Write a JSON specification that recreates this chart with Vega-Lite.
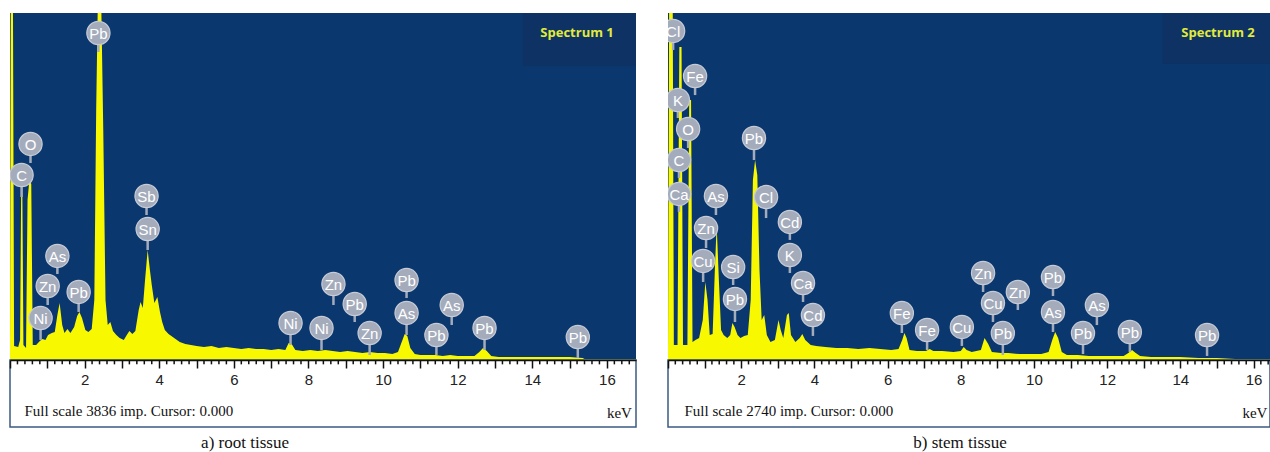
{
 "$schema": "https://vega.github.io/schema/vega-lite/v6.json",
 "padding": {"left": 9, "top": 13, "right": 0, "bottom": 0},
 "background": "white",
 "config": {"view": {"stroke": null, "fill": "#0b376f"}, "concat": {"spacing": 30}},
 "datasets": {
  "mt": [{"e":0.2},{"e":0.4},{"e":0.6},{"e":0.8},{"e":1.2},{"e":1.4},{"e":1.6},{"e":1.8},{"e":2.2},{"e":2.4},{"e":2.6},{"e":2.8},{"e":3.2},{"e":3.4},{"e":3.6},{"e":3.8},{"e":4.2},{"e":4.4},{"e":4.6},{"e":4.8},{"e":5.2},{"e":5.4},{"e":5.6},{"e":5.8},{"e":6.2},{"e":6.4},{"e":6.6},{"e":6.8},{"e":7.2},{"e":7.4},{"e":7.6},{"e":7.8},{"e":8.2},{"e":8.4},{"e":8.6},{"e":8.8},{"e":9.2},{"e":9.4},{"e":9.6},{"e":9.8},{"e":10.2},{"e":10.4},{"e":10.6},{"e":10.8},{"e":11.2},{"e":11.4},{"e":11.6},{"e":11.8},{"e":12.2},{"e":12.4},{"e":12.6},{"e":12.8},{"e":13.2},{"e":13.4},{"e":13.6},{"e":13.8},{"e":14.2},{"e":14.4},{"e":14.6},{"e":14.8},{"e":15.2},{"e":15.4},{"e":15.6},{"e":15.8},{"e":16.2},{"e":16.4},{"e":16.6}],
  "s1": [
   {"e":0.0,"c":111},{"e":0.02,"c":3836},{"e":0.08,"c":3836},{"e":0.11,"c":155},{"e":0.22,"c":144},{"e":0.27,"c":221},{"e":0.30,"c":1935},{"e":0.33,"c":1935},{"e":0.36,"c":166},{"e":0.43,"c":133},{"e":0.47,"c":1769},{"e":0.52,"c":1990},{"e":0.57,"c":1946},{"e":0.61,"c":166},{"e":0.70,"c":166},{"e":0.80,"c":210},{"e":0.87,"c":232},{"e":0.95,"c":221},{"e":1.02,"c":276},{"e":1.12,"c":298},{"e":1.20,"c":310},{"e":1.27,"c":497},{"e":1.33,"c":630},{"e":1.40,"c":387},{"e":1.46,"c":298},{"e":1.54,"c":343},{"e":1.62,"c":298},{"e":1.72,"c":365},{"e":1.80,"c":486},{"e":1.86,"c":531},{"e":1.93,"c":464},{"e":2.02,"c":332},{"e":2.10,"c":310},{"e":2.19,"c":343},{"e":2.26,"c":663},{"e":2.31,"c":2764},{"e":2.35,"c":3836},{"e":2.45,"c":3836},{"e":2.50,"c":2543},{"e":2.56,"c":663},{"e":2.62,"c":387},{"e":2.69,"c":420},{"e":2.76,"c":321},{"e":2.85,"c":276},{"e":2.94,"c":243},{"e":3.05,"c":221},{"e":3.13,"c":276},{"e":3.20,"c":321},{"e":3.28,"c":287},{"e":3.36,"c":321},{"e":3.45,"c":553},{"e":3.50,"c":641},{"e":3.56,"c":575},{"e":3.62,"c":884},{"e":3.69,"c":1216},{"e":3.75,"c":995},{"e":3.80,"c":829},{"e":3.87,"c":630},{"e":3.95,"c":696},{"e":4.02,"c":531},{"e":4.08,"c":420},{"e":4.15,"c":332},{"e":4.25,"c":287},{"e":4.40,"c":243},{"e":4.55,"c":199},{"e":4.70,"c":177},{"e":4.85,"c":166},{"e":5.00,"c":155},{"e":5.20,"c":144},{"e":5.40,"c":155},{"e":5.60,"c":133},{"e":5.80,"c":144},{"e":6.00,"c":133},{"e":6.20,"c":122},{"e":6.40,"c":133},{"e":6.60,"c":122},{"e":6.80,"c":122},{"e":7.00,"c":111},{"e":7.20,"c":122},{"e":7.38,"c":111},{"e":7.47,"c":188},{"e":7.55,"c":177},{"e":7.65,"c":111},{"e":7.85,"c":100},{"e":8.05,"c":111},{"e":8.25,"c":100},{"e":8.45,"c":111},{"e":8.65,"c":100},{"e":8.85,"c":88},{"e":9.05,"c":100},{"e":9.25,"c":88},{"e":9.45,"c":77},{"e":9.65,"c":88},{"e":9.85,"c":77},{"e":10.05,"c":77},{"e":10.25,"c":66},{"e":10.40,"c":88},{"e":10.50,"c":199},{"e":10.58,"c":287},{"e":10.65,"c":265},{"e":10.73,"c":133},{"e":10.85,"c":66},{"e":11.00,"c":55},{"e":11.20,"c":55},{"e":11.40,"c":55},{"e":11.60,"c":44},{"e":11.80,"c":55},{"e":12.00,"c":44},{"e":12.20,"c":44},{"e":12.45,"c":44},{"e":12.58,"c":88},{"e":12.68,"c":133},{"e":12.78,"c":100},{"e":12.90,"c":44},{"e":13.10,"c":33},{"e":13.50,"c":33},{"e":14.00,"c":33},{"e":14.50,"c":33},{"e":15.00,"c":33},{"e":15.35,"c":22},{"e":15.40,"c":11},{"e":16.78,"c":11}
  ],
  "s2": [
   {"e":0.0,"c":79},{"e":0.03,"c":2740},{"e":0.13,"c":2740},{"e":0.16,"c":118},{"e":0.26,"c":118},{"e":0.31,"c":2471},{"e":0.37,"c":2471},{"e":0.41,"c":118},{"e":0.53,"c":118},{"e":0.58,"c":2053},{"e":0.63,"c":2053},{"e":0.67,"c":142},{"e":0.75,"c":158},{"e":0.85,"c":174},{"e":0.95,"c":316},{"e":1.02,"c":616},{"e":1.08,"c":474},{"e":1.14,"c":197},{"e":1.22,"c":205},{"e":1.28,"c":711},{"e":1.33,"c":1066},{"e":1.39,"c":632},{"e":1.45,"c":237},{"e":1.52,"c":197},{"e":1.62,"c":174},{"e":1.70,"c":197},{"e":1.76,"c":292},{"e":1.82,"c":261},{"e":1.90,"c":197},{"e":1.98,"c":174},{"e":2.08,"c":190},{"e":2.18,"c":197},{"e":2.26,"c":474},{"e":2.32,"c":1421},{"e":2.38,"c":1579},{"e":2.44,"c":1461},{"e":2.50,"c":711},{"e":2.56,"c":316},{"e":2.63,"c":355},{"e":2.70,"c":197},{"e":2.80,"c":142},{"e":2.92,"c":158},{"e":3.02,"c":316},{"e":3.08,"c":237},{"e":3.15,"c":174},{"e":3.25,"c":355},{"e":3.30,"c":371},{"e":3.36,"c":197},{"e":3.48,"c":142},{"e":3.60,"c":174},{"e":3.67,"c":205},{"e":3.75,"c":158},{"e":3.90,"c":118},{"e":4.05,"c":111},{"e":4.30,"c":103},{"e":4.60,"c":95},{"e":4.90,"c":95},{"e":5.20,"c":87},{"e":5.50,"c":95},{"e":5.80,"c":87},{"e":6.10,"c":79},{"e":6.30,"c":87},{"e":6.40,"c":158},{"e":6.46,"c":213},{"e":6.52,"c":174},{"e":6.60,"c":79},{"e":6.80,"c":71},{"e":7.05,"c":71},{"e":7.15,"c":87},{"e":7.25,"c":71},{"e":7.50,"c":71},{"e":7.80,"c":63},{"e":8.00,"c":71},{"e":8.08,"c":103},{"e":8.16,"c":79},{"e":8.30,"c":63},{"e":8.55,"c":79},{"e":8.65,"c":174},{"e":8.75,"c":126},{"e":8.85,"c":63},{"e":9.10,"c":55},{"e":9.30,"c":55},{"e":9.60,"c":47},{"e":9.90,"c":47},{"e":10.20,"c":47},{"e":10.40,"c":63},{"e":10.50,"c":158},{"e":10.58,"c":221},{"e":10.66,"c":174},{"e":10.76,"c":63},{"e":10.90,"c":39},{"e":11.20,"c":39},{"e":11.50,"c":32},{"e":11.80,"c":32},{"e":12.10,"c":32},{"e":12.45,"c":32},{"e":12.58,"c":55},{"e":12.68,"c":79},{"e":12.78,"c":55},{"e":12.90,"c":32},{"e":13.20,"c":24},{"e":13.60,"c":24},{"e":14.00,"c":24},{"e":14.50,"c":16},{"e":15.00,"c":16},{"e":15.50,"c":8},{"e":16.45,"c":8}
  ],
  "l1": [
   {"el":"Pb","e":2.37,"yc":3615,"ys":3405},{"el":"O","e":0.55,"yc":2388,"ys":2178},{"el":"C","e":0.31,"yc":2045,"ys":1802},{"el":"Sb","e":3.66,"yc":1813,"ys":1603},{"el":"Sn","e":3.69,"yc":1448,"ys":1216},{"el":"As","e":1.27,"yc":1150,"ys":951},{"el":"Zn","e":1.01,"yc":818,"ys":608},{"el":"Pb","e":1.84,"yc":752,"ys":531},{"el":"Ni","e":0.82,"yc":464,"ys":221},{"el":"Ni","e":7.52,"yc":409,"ys":166},{"el":"Ni","e":8.35,"yc":354,"ys":111},{"el":"Zn","e":8.67,"yc":840,"ys":608},{"el":"Pb","e":9.24,"yc":619,"ys":420},{"el":"Zn","e":9.64,"yc":298,"ys":55},{"el":"Pb","e":10.63,"yc":884,"ys":685},{"el":"As","e":10.63,"yc":520,"ys":276},{"el":"Pb","e":11.43,"yc":276,"ys":55},{"el":"As","e":11.84,"yc":608,"ys":387},{"el":"Pb","e":12.72,"yc":354,"ys":111},{"el":"Pb","e":15.22,"yc":254,"ys":22}
  ],
  "l2": [
   {"el":"Cl","e":0.14,"yc":2598,"ys":2448},{"el":"Fe","e":0.74,"yc":2242,"ys":2092},{"el":"K","e":0.27,"yc":2053,"ys":1911},{"el":"O","e":0.55,"yc":1824,"ys":1674},{"el":"C","e":0.30,"yc":1579,"ys":1437},{"el":"Ca","e":0.30,"yc":1311,"ys":1169},{"el":"As","e":1.31,"yc":1295,"ys":1145},{"el":"Zn","e":1.04,"yc":1042,"ys":884},{"el":"Cu","e":0.96,"yc":782,"ys":616},{"el":"Si","e":1.78,"yc":734,"ys":592},{"el":"Pb","e":2.35,"yc":1753,"ys":1579},{"el":"Cl","e":2.68,"yc":1287,"ys":1121},{"el":"Pb","e":1.83,"yc":482,"ys":300},{"el":"Cd","e":3.33,"yc":1090,"ys":948},{"el":"K","e":3.33,"yc":829,"ys":687},{"el":"Ca","e":3.69,"yc":608,"ys":458},{"el":"Cd","e":3.96,"yc":355,"ys":190},{"el":"Fe","e":6.39,"yc":371,"ys":213},{"el":"Fe","e":7.08,"yc":237,"ys":79},{"el":"Cu","e":8.03,"yc":261,"ys":111},{"el":"Zn","e":8.61,"yc":687,"ys":537},{"el":"Cu","e":8.88,"yc":450,"ys":300},{"el":"Zn","e":9.56,"yc":537,"ys":395},{"el":"Pb","e":9.15,"yc":213,"ys":39},{"el":"Pb","e":10.52,"yc":655,"ys":505},{"el":"As","e":10.52,"yc":379,"ys":221},{"el":"Pb","e":11.34,"yc":213,"ys":47},{"el":"As","e":11.72,"yc":434,"ys":276},{"el":"Pb","e":12.62,"yc":221,"ys":63},{"el":"Pb","e":14.73,"yc":197,"ys":32}
  ]
 },
 "hconcat": [
  {
   "width": 626, "height": 347,
   "encoding": {
    "x": {"type": "quantitative", "scale": {"domain": [0, 16.78], "nice": false, "zero": false},
       "axis": {"tickCount": 17,
         "labelExpr": "datum.value % 2 === 0 && datum.value > 0 ? '' + datum.value : ''",
         "tickSize": 8,
         "tickColor": "#111", "tickWidth": 1.5, "domainColor": "#111", "domainWidth": 1.5, "grid": false,
         "labelFont": "Liberation Sans", "labelFontSize": 15, "labelColor": "#222", "labelPadding": 4, "labelFlush": false, "labelOverlap": false,
         "title": "Full scale 3836 imp. Cursor: 0.000", "titleFont": "Liberation Serif", "titleFontSize": 15, "titleFontWeight": "normal", "titleColor": "#111",
         "titleAnchor": "start", "titleAlign": "left", "titleBaseline": "middle", "titleX": 14, "titleY": 50, "zindex": 1}},
    "y": {"type": "quantitative", "scale": {"domain": [0, 3836], "nice": false}, "axis": null}
   },
   "layer": [
    {"data": {"values": [{}]}, "mark": {"type": "rect", "fill": "#0d3263"},
     "encoding": {"x": {"datum": 13.75}, "x2": {"datum": 16.78}, "y": {"datum": 3836}, "y2": {"datum": 3250}}},
    {"data": {"name": "s1"}, "mark": {"type": "area", "color": "#f8f800", "clip": true},
     "encoding": {"x": {"field": "e"}, "y": {"field": "c"}}},
    {"data": {"name": "mt"}, "mark": {"type": "rule", "color": "#111", "strokeWidth": 1.5},
     "encoding": {"x": {"field": "e"}, "y": {"datum": 0}, "y2": {"datum": -48}}},
    {"data": {"name": "l1"}, "mark": {"type": "rule", "color": "#a4acbc", "strokeWidth": 2.5, "clip": true},
     "encoding": {"x": {"field": "e"}, "y": {"field": "yc"}, "y2": {"field": "ys"}}},
    {"data": {"name": "l1"}, "mark": {"type": "point", "shape": "circle", "filled": true, "size": 540, "color": "#a4acbc", "stroke": "#c6cbd6", "strokeWidth": 1.2, "opacity": 1, "clip": true},
     "encoding": {"x": {"field": "e"}, "y": {"field": "yc"}}},
    {"data": {"name": "l1"}, "mark": {"type": "text", "font": "Liberation Sans", "fontSize": 15, "color": "#ffffff", "baseline": "middle", "align": "center", "dy": 1, "clip": true},
     "encoding": {"x": {"field": "e"}, "y": {"field": "yc"}, "text": {"field": "el"}}},
    {"data": {"values": [{}]}, "mark": {"type": "text", "text": "Spectrum 1", "font": "Open Sans", "fontWeight": "bold", "fontSize": 13, "color": "#e2ea3c", "baseline": "middle"},
     "encoding": {"x": {"datum": 15.2}, "y": {"datum": 3615}}},
    {"data": {"values": [{}]}, "mark": {"type": "rect", "fillOpacity": 0, "stroke": "#3c5a82", "strokeWidth": 1.5},
     "encoding": {"x": {"datum": 0}, "x2": {"datum": 16.78}, "y": {"datum": 0}, "y2": {"datum": -741}}},
    {"data": {"values": [{}]}, "mark": {"type": "text", "text": "keV", "font": "Liberation Serif", "fontSize": 15, "color": "#111", "align": "right", "baseline": "middle"},
     "encoding": {"x": {"datum": 16.67}, "y": {"datum": -586}}},
    {"data": {"values": [{}]}, "mark": {"type": "text", "text": "a) root tissue", "font": "Liberation Serif", "fontSize": 17, "color": "#111", "align": "center", "baseline": "middle"},
     "encoding": {"x": {"datum": 6.3}, "y": {"datum": -918}}}
   ]
  },
  {
   "width": 602, "height": 347,
   "encoding": {
    "x": {"type": "quantitative", "scale": {"domain": [0, 16.45], "nice": false, "zero": false},
       "axis": {"tickCount": 17,
         "labelExpr": "datum.value % 2 === 0 && datum.value > 0 ? '' + datum.value : ''",
         "tickSize": 8,
         "tickColor": "#111", "tickWidth": 1.5, "domainColor": "#111", "domainWidth": 1.5, "grid": false,
         "labelFont": "Liberation Sans", "labelFontSize": 15, "labelColor": "#222", "labelPadding": 4, "labelFlush": false, "labelOverlap": false,
         "title": "Full scale 2740 imp. Cursor: 0.000", "titleFont": "Liberation Serif", "titleFontSize": 15, "titleFontWeight": "normal", "titleColor": "#111",
         "titleAnchor": "start", "titleAlign": "left", "titleBaseline": "middle", "titleX": 16, "titleY": 50, "zindex": 1}},
    "y": {"type": "quantitative", "scale": {"domain": [0, 2740], "nice": false}, "axis": null}
   },
   "layer": [
    {"data": {"values": [{}]}, "mark": {"type": "rect", "fill": "#0d3263"},
     "encoding": {"x": {"datum": 13.52}, "x2": {"datum": 16.45}, "y": {"datum": 2740}, "y2": {"datum": 2340}}},
    {"data": {"name": "s2"}, "mark": {"type": "area", "color": "#f8f800", "clip": true},
     "encoding": {"x": {"field": "e"}, "y": {"field": "c"}}},
    {"data": {"name": "mt"}, "transform": [{"filter": "datum.e < 16.45"}], "mark": {"type": "rule", "color": "#111", "strokeWidth": 1.5},
     "encoding": {"x": {"field": "e"}, "y": {"datum": 0}, "y2": {"datum": -35}}},
    {"data": {"name": "l2"}, "mark": {"type": "rule", "color": "#a4acbc", "strokeWidth": 2.5, "clip": true},
     "encoding": {"x": {"field": "e"}, "y": {"field": "yc"}, "y2": {"field": "ys"}}},
    {"data": {"name": "l2"}, "mark": {"type": "point", "shape": "circle", "filled": true, "size": 540, "color": "#a4acbc", "stroke": "#c6cbd6", "strokeWidth": 1.2, "opacity": 1, "clip": true},
     "encoding": {"x": {"field": "e"}, "y": {"field": "yc"}}},
    {"data": {"name": "l2"}, "mark": {"type": "text", "font": "Liberation Sans", "fontSize": 15, "color": "#ffffff", "baseline": "middle", "align": "center", "dy": 1, "clip": true},
     "encoding": {"x": {"field": "e"}, "y": {"field": "yc"}, "text": {"field": "el"}}},
    {"data": {"values": [{}]}, "mark": {"type": "text", "text": "Spectrum 2", "font": "Open Sans", "fontWeight": "bold", "fontSize": 13, "color": "#e2ea3c", "baseline": "middle"},
     "encoding": {"x": {"datum": 15.03}, "y": {"datum": 2582}}},
    {"data": {"values": [{}]}, "mark": {"type": "rect", "fillOpacity": 0, "stroke": "#3c5a82", "strokeWidth": 1.5},
     "encoding": {"x": {"datum": 0}, "x2": {"datum": 16.45}, "y": {"datum": 0}, "y2": {"datum": -529}}},
    {"data": {"values": [{}]}, "mark": {"type": "text", "text": "keV", "font": "Liberation Serif", "fontSize": 15, "color": "#111", "align": "right", "baseline": "middle"},
     "encoding": {"x": {"datum": 16.38}, "y": {"datum": -418}}},
    {"data": {"values": [{}]}, "mark": {"type": "text", "text": "b) stem tissue", "font": "Liberation Serif", "fontSize": 17, "color": "#111", "align": "center", "baseline": "middle"},
     "encoding": {"x": {"datum": 7.98}, "y": {"datum": -655}}}
   ]
  }
 ]
}
